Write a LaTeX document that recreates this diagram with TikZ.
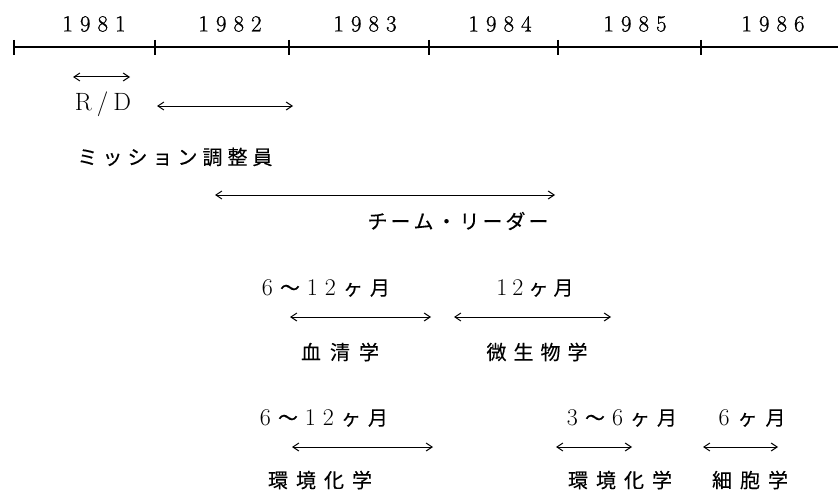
\documentclass[tikz,border=0pt]{standalone}
\usepackage{fontspec}
\newfontfamily\jp[FakeBold=0.25]{Noto Sans CJK JP}
\newfontfamily\yrf[FakeBold=0.8]{Latin Modern Roman}
\usetikzlibrary{arrows.meta}
\newcommand\gp[1][8pt]{\hspace{#1}}
\newcommand\dg[1]{{\fontsize{24}{24}\selectfont #1}}
\begin{document}
\begin{tikzpicture}[x=1pt,y=-1pt,
  yr/.style={font=\fontsize{23}{23}\selectfont\yrf, inner sep=0pt},
  lab/.style={font=\fontsize{20}{20}\selectfont, inner sep=0pt},
  rdlab/.style={font=\fontsize{25}{25}\selectfont, inner sep=0pt},
  span/.style={line width=1pt, {Straight Barb[length=6pt,width=8pt]}-{Straight Barb[length=6pt,width=8pt]}},
  tickmark/.style={line width=1.4pt},
  axis/.style={line width=1.1pt}]
\useasboundingbox (0,0) rectangle (838,495);
\fill[white] (0,0) rectangle (838,495);

% years
\node[yr] (y81) at (94,24) {1\gp[7pt]9\gp[7pt]8\gp[7pt]1};
\node[yr] (y82) at (230,24) {1\gp[7pt]9\gp[7pt]8\gp[7pt]2};
\node[yr] (y83) at (365,24) {1\gp[7pt]9\gp[7pt]8\gp[7pt]3};
\node[yr] (y84) at (500,24) {1\gp[7pt]9\gp[7pt]8\gp[7pt]4};
\node[yr] (y85) at (635,24) {1\gp[7pt]9\gp[7pt]8\gp[7pt]5};
\node[yr] (y86) at (773,24) {1\gp[7pt]9\gp[7pt]8\gp[7pt]6};

% axis
\coordinate (ax0) at (14,47);
\coordinate (ax1) at (838,47);
\draw[axis] (ax0) -- (ax1);
\foreach \x in {14,155,289,429,558,701}
  \draw[tickmark] (\x,40) -- (\x,55);

% R/D
\coordinate (rd0) at (73,77);
\coordinate (rd1) at (130,77);
\draw[span] (rd0) -- (rd1);
\node[rdlab] (rd) at (103,104) {R\gp[5pt]/\gp[5pt]D};
\coordinate (mc0) at (157,106);
\coordinate (mc1) at (293,106);
\draw[span] (mc0) -- (mc1);
\node[lab] (mc) at (175,157) {\jp ミ\gp[5pt]ッ\gp[5pt]シ\gp[5pt]ョ\gp[5pt]ン\gp[5pt]調\gp[5pt]整\gp[5pt]員};

% team leader
\coordinate (tl0) at (215,195);
\coordinate (tl1) at (555,195);
\draw[span] (tl0) -- (tl1);
\node[lab] (tl) at (458,221) {\jp チ\gp[3pt]ー\gp[3pt]ム\gp[3pt]・\gp[3pt]リ\gp[3pt]ー\gp[3pt]ダ\gp[3pt]ー};

% serology / microbiology
\node[lab] (d1) at (326,288) {\dg{6}\gp[7pt]{\jp 〜}\gp[7pt]\dg{1}\gp[7pt]\dg{2}\gp[7pt]{\jp ヶ}\gp[7pt]{\jp 月}};
\node[lab] (d2) at (535,288) {\dg{1}\gp[5pt]\dg{2}\gp[5pt]{\jp ヶ}\gp[5pt]{\jp 月}};
\coordinate (s0) at (290,317);
\coordinate (s1) at (431,317);
\draw[span] (s0) -- (s1);
\coordinate (m0) at (454,317);
\coordinate (m1) at (611,317);
\draw[span] (m0) -- (m1);
\node[lab] (serum) at (340,352) {\jp 血\gp[9pt]清\gp[9pt]学};
\node[lab] (micro) at (537,352) {\jp 微\gp[7pt]生\gp[7pt]物\gp[7pt]学};

% bottom row
\node[lab] (d3) at (324,418) {\dg{6}\gp[7pt]{\jp 〜}\gp[7pt]\dg{1}\gp[7pt]\dg{2}\gp[7pt]{\jp ヶ}\gp[7pt]{\jp 月}};
\node[lab] (d4) at (622,418) {\dg{3}\gp[7pt]{\jp 〜}\gp[7pt]\dg{6}\gp[7pt]{\jp ヶ}\gp[7pt]{\jp 月}};
\node[lab] (d5) at (752,418) {\dg{6}\gp[8pt]{\jp ヶ}\gp[8pt]{\jp 月}};
\coordinate (e0) at (292,447);
\coordinate (e1) at (433,447);
\draw[span] (e0) -- (e1);
\coordinate (f0) at (556,447);
\coordinate (f1) at (632,447);
\draw[span] (f0) -- (f1);
\coordinate (g0) at (703,447);
\coordinate (g1) at (778,447);
\draw[span] (g0) -- (g1);
\node[lab] (env1) at (320,480) {\jp 環\gp[8pt]境\gp[8pt]化\gp[8pt]学};
\node[lab] (env2) at (620,480) {\jp 環\gp[8pt]境\gp[8pt]化\gp[8pt]学};
\node[lab] (cell) at (750,480) {\jp 細\gp[8pt]胞\gp[8pt]学};
\end{tikzpicture}
\end{document}
